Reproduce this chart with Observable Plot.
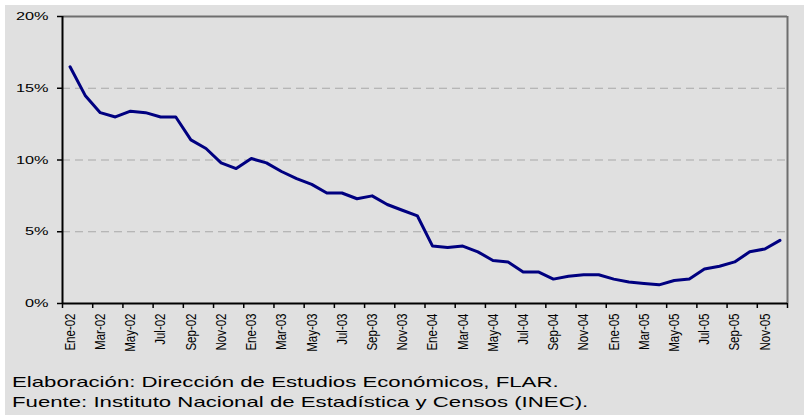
<!DOCTYPE html>
<html><head><meta charset="utf-8">
<script src="https://cdn.jsdelivr.net/npm/d3@7"></script>
<script src="https://cdn.jsdelivr.net/npm/@observablehq/plot@0.6"></script>
<style>
body{margin:0;background:#fff;}
#wrap{position:absolute;left:5px;top:5px;width:799px;height:410px;background:#e0e0e0;font-family:"Liberation Sans",Arial,sans-serif;overflow:hidden;}
#chart{position:absolute;left:0;top:0;}
.cap{position:absolute;left:7px;font-size:15px;line-height:15px;transform:scaleX(1.48);transform-origin:0 0;white-space:nowrap;color:#000;}
</style></head><body>
<div id="wrap"><div id="chart"></div>
<div class="cap" id="c1" style="top:369px"></div>
<div class="cap" id="c2" style="top:389px"></div></div>
<script>
const months = ["Ene-02","Feb-02","Mar-02","Abr-02","May-02","Jun-02","Jul-02","Ago-02","Sep-02","Oct-02","Nov-02","Dic-02",
"Ene-03","Feb-03","Mar-03","Abr-03","May-03","Jun-03","Jul-03","Ago-03","Sep-03","Oct-03","Nov-03","Dic-03",
"Ene-04","Feb-04","Mar-04","Abr-04","May-04","Jun-04","Jul-04","Ago-04","Sep-04","Oct-04","Nov-04","Dic-04",
"Ene-05","Feb-05","Mar-05","Abr-05","May-05","Jun-05","Jul-05","Ago-05","Sep-05","Oct-05","Nov-05","Dic-05"];
const inflation = [16.5,14.5,13.3,13.0,13.4,13.3,13.0,13.0,11.4,10.8,9.8,9.4,
10.1,9.8,9.2,8.7,8.3,7.7,7.7,7.3,7.5,6.9,6.5,6.1,
4.0,3.9,4.0,3.6,3.0,2.9,2.2,2.2,1.7,1.9,2.0,2.0,
1.7,1.5,1.4,1.3,1.6,1.7,2.4,2.6,2.9,3.6,3.8,4.4];
const yTicks = [0,5,10,15,20];
const gridLevels = [5,10,15];
const captionLines = ["Elaboración: Dirección de Estudios Económicos, FLAR.",
"Fuente: Instituto Nacional de Estadística y Censos (INEC)."];

const data = months.map((m,i)=>({pos:i+0.5, v:inflation[i], m}));
const tickPos = d3.range(0, months.length+1, 2);
const labelPos = d3.range(0, months.length, 2).map(i=>i+0.5);

const plot = Plot.plot({
  width: 799, height: 360,
  marginLeft: 57, marginRight: 17, marginTop: 11, marginBottom: 62,
  style: {background:"transparent", fontFamily:"Liberation Sans, Arial, sans-serif", color:"#000", overflow:"visible"},
  x: {domain:[0, months.length]},
  y: {domain:[0,20]},
  marks: [
    Plot.ruleY(gridLevels, {y:d=>d, stroke:"#a8a8a8", strokeDasharray:"8,5", strokeWidth:1}),
    Plot.ruleY([20], {stroke:"#6e6e6e", strokeWidth:2}),
    Plot.ruleX([months.length], {stroke:"#6e6e6e", strokeWidth:2}),
    Plot.axisY({ticks:yTicks, tickFormat:d=>d+"%", tickSize:5, tickPadding:9, fontSize:11, label:null, strokeWidth:1.5}),
    Plot.axisX({ticks:tickPos, tickFormat:()=>"", tickSize:5, label:null, strokeWidth:1.5}),
    Plot.axisX({ticks:labelPos, tickFormat:d=>months[Math.round(d-0.5)], tickSize:0, tickPadding:10, tickRotate:-90, fontSize:11.5, label:null}),
    Plot.ruleX([0], {stroke:"#000", strokeWidth:2}),
    Plot.ruleY([0], {stroke:"#000", strokeWidth:2}),
    Plot.line(data, {x:"pos", y:"v", stroke:"#000080", strokeWidth:3})
  ]
});
plot.querySelectorAll('g[aria-label="y-axis tick label"] text').forEach(t=>t.setAttribute("transform",(t.getAttribute("transform")||"")+" scale(1.48,1)"));
plot.querySelectorAll('g[aria-label="x-axis tick label"] text').forEach(t=>t.setAttribute("transform",(t.getAttribute("transform")||"")+" scale(1,1.3)"));
document.getElementById("chart").appendChild(plot);
document.getElementById("c1").textContent = captionLines[0];
document.getElementById("c2").textContent = captionLines[1];
</script>
</body></html>
